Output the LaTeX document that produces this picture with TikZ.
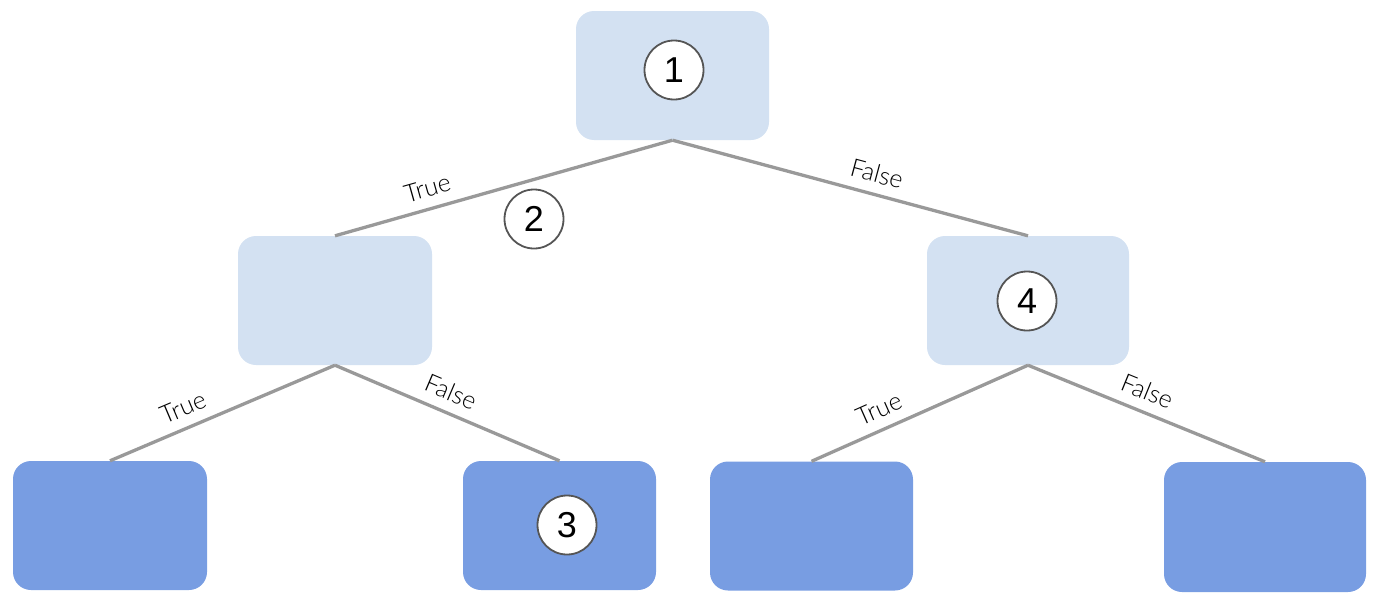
\documentclass[tikz,border=0pt]{standalone}
\usepackage{fontspec}
\setmainfont{Liberation Sans}
\newfontfamily\edgefont{Lato Light}
\begin{document}
\definecolor{innerfill}{HTML}{D3E1F2}
\definecolor{leaffill}{HTML}{789DE2}
\definecolor{linkgray}{HTML}{999999}
\definecolor{ringgray}{HTML}{555555}
\begin{tikzpicture}[x=1pt,y=-1pt,
  box/.style={rounded corners=18pt, inner sep=0pt, minimum width=#1, minimum height=129pt},
  inner/.style={box=#1, fill=innerfill},
  leaf/.style={box=#1, fill=leaffill},
  link/.style={draw=linkgray, line width=3.3pt},
  lbl/.style={font=\edgefont\fontsize{25}{25}\selectfont, inner sep=0pt, sloped, above=10pt},
  num/.style={circle, draw=ringgray, line width=1.8pt, fill=white, minimum size=59pt, inner sep=0pt,
    font=\fontsize{36}{36}\selectfont}
]
\useasboundingbox (0,0) rectangle (1382,608);

% decision nodes
\node[inner=193pt] (root) at (672.5,75.5) {};
\node[inner=194pt] (left) at (335,300.5) {};
\node[inner=202pt] (right) at (1028,300.5) {};

% leaves
\node[leaf=194pt] (ll) at (110,525.5) {};
\node[leaf=193pt] (lr) at (559.5,525.5) {};
\node[leaf=203pt] (rl) at (811.5,526) {};
\node[leaf=202pt, minimum height=130pt] (rr) at (1265,527) {};

% branches
\draw[link] (root.south) -- node[lbl, pos=0.71] {True} (left.north);
\draw[link] (root.south) -- node[lbl, pos=0.56] {False} (right.north);
\draw[link] (left.south) -- node[lbl, pos=0.64] {True} (ll.north);
\draw[link] (left.south) -- node[lbl, pos=0.48] {False} (lr.north);
\draw[link] (right.south) -- node[lbl, pos=0.65] {True} (rl.north);
\draw[link] (right.south) -- node[lbl, pos=0.47] {False} (rr.north);

% numbered markers
\node[num] (n1) at (674,70) {1};
\node[num] (n2) at (534,219) {2};
\node[num] (n3) at (567,525) {3};
\node[num] (n4) at (1027,301) {4};
\end{tikzpicture}
\end{document}
